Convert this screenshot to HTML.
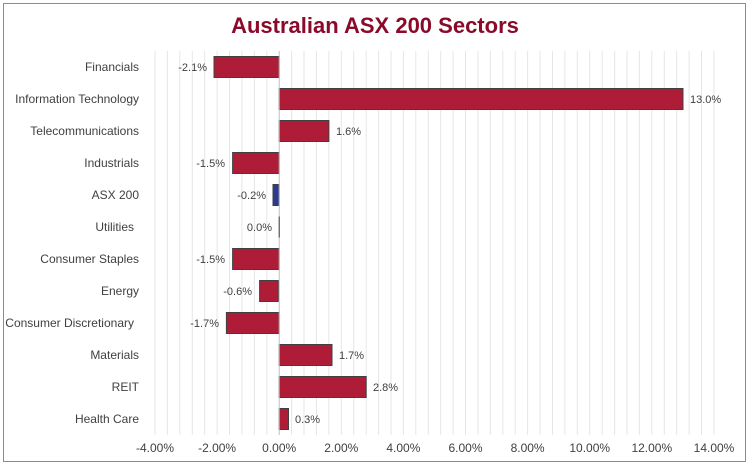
<!DOCTYPE html>
<html><head><meta charset="utf-8"><style>
html,body{margin:0;padding:0;background:#fff;}
svg{display:block;font-family:"Liberation Sans",Arial,sans-serif;}
</style></head><body>
<svg width="750" height="465" viewBox="0 0 750 465">
<rect x="3.5" y="3.5" width="742" height="458" fill="#fff" stroke="#8c8c8c" stroke-width="1"/>
<text x="375" y="33" text-anchor="middle" font-size="22" font-weight="bold" fill="#8b0a2a">Australian ASX 200 Sectors</text>
<g stroke="#e6e6e6" stroke-width="1">
<line x1="155.0" y1="51" x2="155.0" y2="435"/><line x1="167.4" y1="51" x2="167.4" y2="435"/><line x1="179.8" y1="51" x2="179.8" y2="435"/><line x1="192.3" y1="51" x2="192.3" y2="435"/><line x1="204.7" y1="51" x2="204.7" y2="435"/><line x1="217.1" y1="51" x2="217.1" y2="435"/><line x1="229.5" y1="51" x2="229.5" y2="435"/><line x1="241.9" y1="51" x2="241.9" y2="435"/><line x1="254.4" y1="51" x2="254.4" y2="435"/><line x1="266.8" y1="51" x2="266.8" y2="435"/><line x1="291.6" y1="51" x2="291.6" y2="435"/><line x1="304.0" y1="51" x2="304.0" y2="435"/><line x1="316.5" y1="51" x2="316.5" y2="435"/><line x1="328.9" y1="51" x2="328.9" y2="435"/><line x1="341.3" y1="51" x2="341.3" y2="435"/><line x1="353.7" y1="51" x2="353.7" y2="435"/><line x1="366.2" y1="51" x2="366.2" y2="435"/><line x1="378.6" y1="51" x2="378.6" y2="435"/><line x1="391.0" y1="51" x2="391.0" y2="435"/><line x1="403.4" y1="51" x2="403.4" y2="435"/><line x1="415.8" y1="51" x2="415.8" y2="435"/><line x1="428.3" y1="51" x2="428.3" y2="435"/><line x1="440.7" y1="51" x2="440.7" y2="435"/><line x1="453.1" y1="51" x2="453.1" y2="435"/><line x1="465.5" y1="51" x2="465.5" y2="435"/><line x1="477.9" y1="51" x2="477.9" y2="435"/><line x1="490.4" y1="51" x2="490.4" y2="435"/><line x1="502.8" y1="51" x2="502.8" y2="435"/><line x1="515.2" y1="51" x2="515.2" y2="435"/><line x1="527.6" y1="51" x2="527.6" y2="435"/><line x1="540.1" y1="51" x2="540.1" y2="435"/><line x1="552.5" y1="51" x2="552.5" y2="435"/><line x1="564.9" y1="51" x2="564.9" y2="435"/><line x1="577.3" y1="51" x2="577.3" y2="435"/><line x1="589.7" y1="51" x2="589.7" y2="435"/><line x1="602.2" y1="51" x2="602.2" y2="435"/><line x1="614.6" y1="51" x2="614.6" y2="435"/><line x1="627.0" y1="51" x2="627.0" y2="435"/><line x1="639.4" y1="51" x2="639.4" y2="435"/><line x1="651.8" y1="51" x2="651.8" y2="435"/><line x1="664.3" y1="51" x2="664.3" y2="435"/><line x1="676.7" y1="51" x2="676.7" y2="435"/><line x1="689.1" y1="51" x2="689.1" y2="435"/><line x1="701.5" y1="51" x2="701.5" y2="435"/><line x1="714.0" y1="51" x2="714.0" y2="435"/>
</g>
<g stroke="#404040" stroke-width="1">
<rect x="214.0" y="56.5" width="65.2" height="21" fill="#ae1c37"/>
<rect x="279.2" y="88.5" width="403.8" height="21" fill="#ae1c37"/>
<rect x="279.2" y="120.5" width="49.7" height="21" fill="#ae1c37"/>
<rect x="232.6" y="152.5" width="46.6" height="21" fill="#ae1c37"/>
<rect x="273.0" y="184.5" width="6.2" height="21" fill="#2b3991"/>
<rect x="259.8" y="280.5" width="19.4" height="21" fill="#ae1c37" stroke="none"/>
<rect x="232.6" y="248.5" width="46.6" height="21" fill="#ae1c37"/>
<rect x="259.6" y="280.5" width="18.6" height="21" fill="#ae1c37"/>
<rect x="226.4" y="312.5" width="52.8" height="21" fill="#ae1c37"/>
<rect x="279.2" y="344.5" width="52.8" height="21" fill="#ae1c37"/>
<rect x="279.2" y="376.5" width="87.0" height="21" fill="#ae1c37"/>
<rect x="279.2" y="408.5" width="9.3" height="21" fill="#ae1c37"/>
</g>
<line x1="279.2" y1="51" x2="279.2" y2="435" stroke="#bfbfbf"/>
<line x1="279.2" y1="216.5" x2="279.2" y2="237.5" stroke="#404040"/>
<g font-size="11" fill="#404040">
<text x="207" y="71" text-anchor="end">-2.1%</text>
<text x="690" y="103">13.0%</text>
<text x="336" y="135">1.6%</text>
<text x="225" y="167" text-anchor="end">-1.5%</text>
<text x="266" y="199" text-anchor="end">-0.2%</text>
<text x="272" y="231" text-anchor="end">0.0%</text>
<text x="225" y="263" text-anchor="end">-1.5%</text>
<text x="252" y="295" text-anchor="end">-0.6%</text>
<text x="219" y="327" text-anchor="end">-1.7%</text>
<text x="339" y="359">1.7%</text>
<text x="373" y="391">2.8%</text>
<text x="295" y="423">0.3%</text>
</g>
<g font-size="12" fill="#404040" text-anchor="end">
<text x="139" y="71">Financials</text>
<text x="139" y="103">Information Technology</text>
<text x="139" y="135">Telecommunications</text>
<text x="139" y="167">Industrials</text>
<text x="139" y="199">ASX 200</text>
<text x="134" y="231">Utilities</text>
<text x="139" y="263">Consumer Staples</text>
<text x="139" y="295">Energy</text>
<text x="134" y="327">Consumer Discretionary</text>
<text x="139" y="359">Materials</text>
<text x="139" y="391">REIT</text>
<text x="139" y="423">Health Care</text>
</g>
<g font-size="12" fill="#404040" text-anchor="middle">
<text x="155.0" y="452">-4.00%</text>
<text x="217.1" y="452">-2.00%</text>
<text x="279.2" y="452">0.00%</text>
<text x="341.3" y="452">2.00%</text>
<text x="403.4" y="452">4.00%</text>
<text x="465.5" y="452">6.00%</text>
<text x="527.6" y="452">8.00%</text>
<text x="589.7" y="452">10.00%</text>
<text x="651.8" y="452">12.00%</text>
<text x="714.0" y="452">14.00%</text>
</g>
</svg>
</body></html>
